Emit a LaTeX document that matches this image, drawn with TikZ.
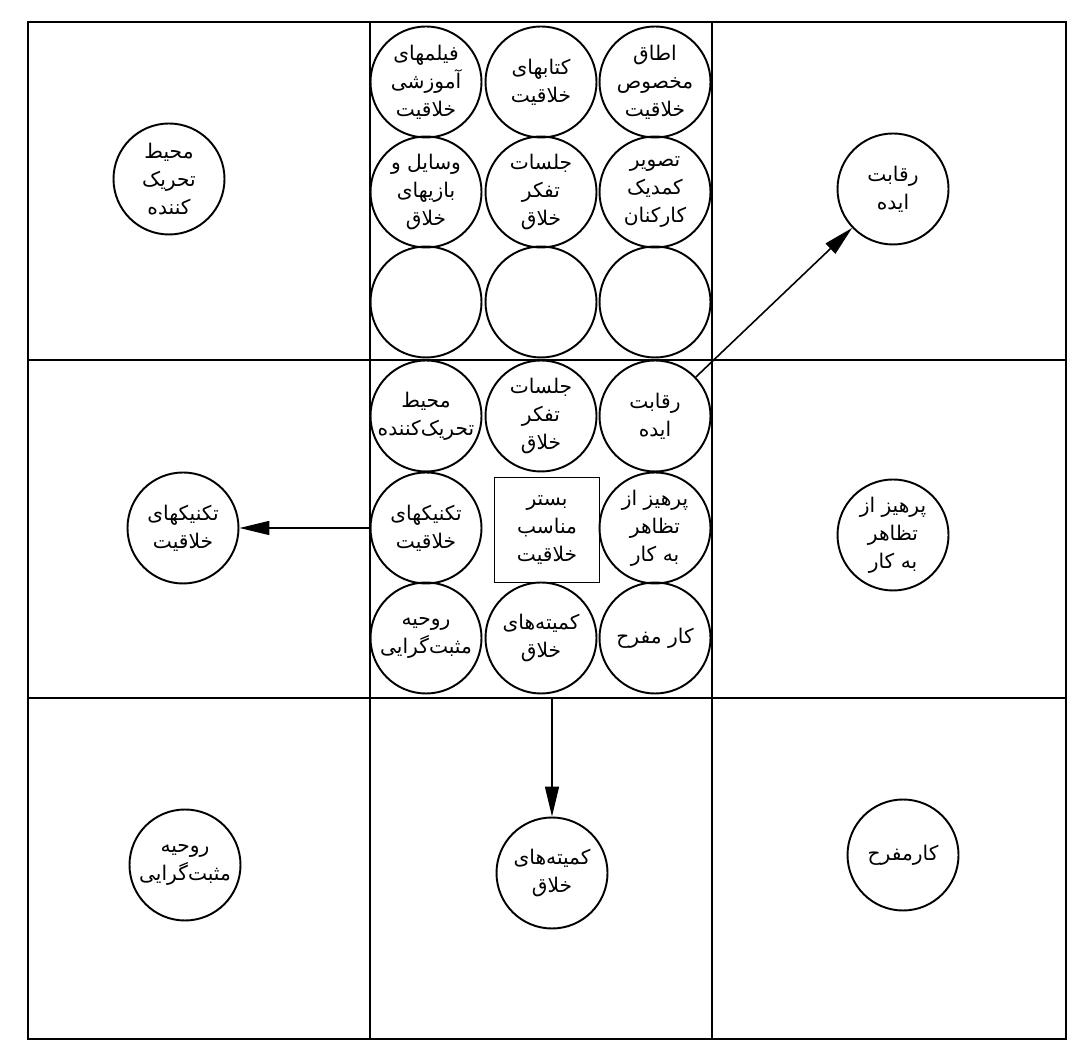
\documentclass[tikz,border=0pt]{standalone}
\usepackage{fontspec}
\newfontfamily\farsi[Script=Arabic]{DejaVu Sans}
\TeXXeTstate=1
\usetikzlibrary{arrows.meta}
\newcommand{\rl}[1]{\beginR #1\endR}

\begin{document}
\begin{tikzpicture}[
  x=1cm, y=1cm,
  every node/.style={inner sep=1pt},
  disc/.style={circle, draw, line width=1.1pt, minimum size=2.22cm, inner sep=0pt,
    align=center, font=\farsi\fontsize{11.5}{16}\selectfont},
  core/.style={rectangle, draw, line width=1.1pt, minimum size=2.1cm, inner sep=0pt,
    align=center, font=\farsi\fontsize{11.5}{16}\selectfont},
  rule/.style={draw, line width=0.9pt},
  % the three links out of the middle column
  arrow/.style={draw, line width=0.9pt, -{Triangle[length=6mm, width=2.8mm]}}]

  \useasboundingbox (0,0) rectangle (21.46,20.88);

  % frame and the two pairs of dividers
  \draw[rule] (0.56,0.10) rectangle (21.32,20.44);
  \draw[rule] (7.40,0.10) -- (7.40,20.44);
  \draw[rule] (14.24,0.10) -- (14.24,20.44);
  \draw[rule] (0.56,13.68) -- (21.32,13.68);
  \draw[rule] (0.56,6.92) -- (21.32,6.92);
  \coordinate (cut) at (11.04,6.92);

  % middle column, upper block
  \node[disc] (films) at ( 8.52,19.24) {\rl{فیلمهای}\\\rl{آموزشی}\\\rl{خلاقیت}};
  \node[disc] (books) at (10.82,19.24) {\rl{کتابهای}\\\rl{خلاقیت}};
  \node[disc] (room)  at (13.10,19.24) {\rl{اطاق}\\\rl{مخصوص}\\\rl{خلاقیت}};
  \node[disc] (toys)  at ( 8.52,17.04) {\rl{وسایل و}\\\rl{بازیهای}\\\rl{خلاق}};
  \node[disc] (meet)  at (10.82,17.04) {\rl{جلسات}\\\rl{تفکر}\\\rl{خلاق}};
  \node[disc] (comic) at (13.10,17.04) {\rl{تصویر}\\\rl{کمدیک}\\\rl{کارکنان}};
  \node[disc] (free1) at ( 8.52,14.84) {};
  \node[disc] (free2) at (10.82,14.84) {};
  \node[disc] (free3) at (13.10,14.84) {};

  % middle column, centre block
  \node[disc] (env)   at ( 8.52,12.56) {\rl{محیط}\\\rl{تحریک‌کننده}};
  \node[disc] (brain) at (10.82,12.56) {\rl{جلسات}\\\rl{تفکر}\\\rl{خلاق}};
  \node[disc] (rival) at (13.10,12.56) {\rl{رقابت}\\\rl{ایده}};
  \node[disc] (tech)  at ( 8.52,10.32) {\rl{تکنیکهای}\\\rl{خلاقیت}};
  \node[core] (base)  at (10.94,10.28) {\rl{بستر}\\\rl{مناسب}\\\rl{خلاقیت}};
  \node[disc] (avoid) at (13.10,10.32) {\rl{پرهیز از}\\\rl{تظاهر}\\\rl{به کار}};
  \node[disc] (mood)  at ( 8.52, 8.12) {\rl{روحیه}\\\rl{مثبت‌گرایی}};
  \node[disc] (comm)  at (10.82, 8.12) {\rl{کمیته‌های}\\\rl{خلاق}};
  \node[disc] (fun)   at (13.10, 8.12) {\rl{کار مفرح}};

  % outer cells
  \node[disc] (oenv)   at ( 3.38,17.30) {\rl{محیط}\\\rl{تحریک}\\\rl{کننده}};
  \node[disc] (orival) at (17.86,17.10) {\rl{رقابت}\\\rl{ایده}};
  \node[disc] (otech)  at ( 3.66,10.32) {\rl{تکنیکهای}\\\rl{خلاقیت}};
  \node[disc] (oavoid) at (17.86,10.18) {\rl{پرهیز از}\\\rl{تظاهر}\\\rl{به کار}};
  \node[disc] (omood)  at ( 3.70, 3.58) {\rl{روحیه}\\\rl{مثبت‌گرایی}};
  \node[disc] (ocomm)  at (11.04, 3.42) {\rl{کمیته‌های}\\\rl{خلاق}};
  \node[disc] (ofun)   at (18.06, 3.78) {\rl{کارمفرح}};

  % arrows
  \draw[arrow] (rival) -- (orival);
  \draw[arrow] (tech)  -- (otech);
  \draw[arrow] (cut)   -- (ocomm);
\end{tikzpicture}
\end{document}
